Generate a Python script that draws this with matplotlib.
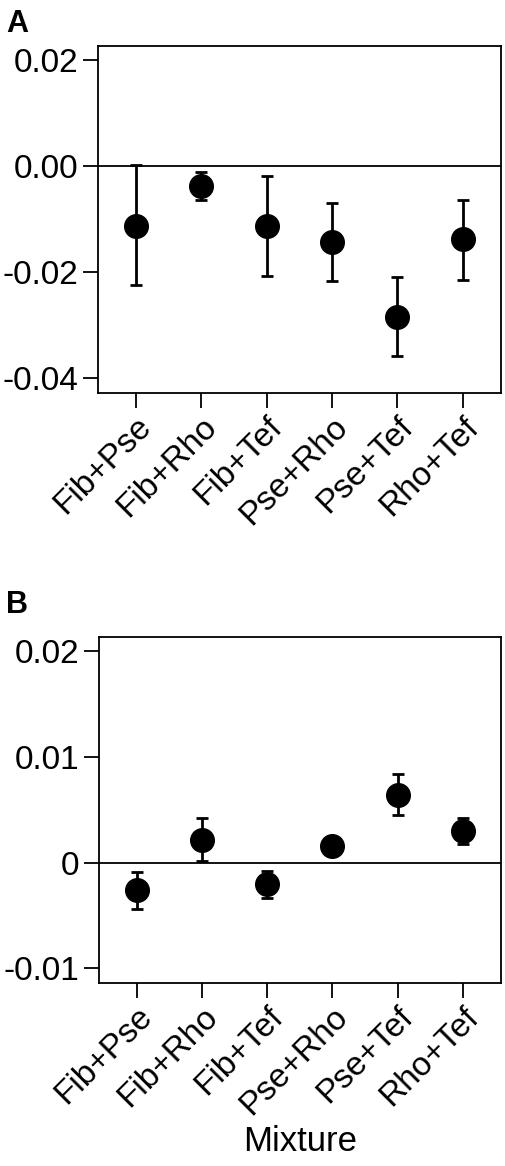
import matplotlib
matplotlib.use("Agg")
import matplotlib.pyplot as plt
import numpy as np

plt.rcParams['font.family'] = ['Liberation Sans', 'DejaVu Sans']

categories = ["Fib+Pse", "Fib+Rho", "Fib+Tef", "Pse+Rho", "Pse+Tef", "Rho+Tef"]

# Panel A
a_mean = [-0.0112, -0.0037, -0.0113, -0.0143, -0.0284, -0.0138]
a_upper = [0.0002, -0.0011, -0.0018, -0.0069, -0.0209, -0.0063]
a_lower = [-0.0224, -0.0064, -0.0208, -0.0216, -0.0358, -0.0214]
a_ticks = [0.02, 0.00, -0.02, -0.04]
a_ticklabels = ["0.02", "0.00", "-0.02", "-0.04"]

# Panel B
b_mean = [-0.0026, 0.00215, -0.0020, 0.0016, 0.0064, 0.0030]
b_upper = [-0.0009, 0.0042, -0.0008, 0.0018, 0.0084, 0.0042]
b_lower = [-0.0044, 0.0002, -0.0033, 0.0014, 0.0045, 0.0018]
b_ticks = [0.02, 0.01, 0.0, -0.01]
b_ticklabels = ["0.02", "0.01", "0", "-0.01"]

xlabel = "Mixture"

fig = plt.figure(figsize=(5.05, 11.66), dpi=100)
axA = fig.add_axes([0.194, 0.663, 0.7975, 0.2975])
axB = fig.add_axes([0.196, 0.1567, 0.7955, 0.2967])

def draw(ax, mean, upper, lower, ticks, ticklabels, ylim):
    x = np.arange(len(categories))
    mean = np.array(mean); upper = np.array(upper); lower = np.array(lower)
    yerr = np.vstack([mean - lower, upper - mean])
    ax.axhline(0, color='black', lw=1.3, zorder=1)
    ax.errorbar(x, mean, yerr=yerr, fmt='o', color='black', ms=17,
                elinewidth=2.0, capsize=4, capthick=2.0, zorder=3)
    ax.set_xlim(-0.58, len(categories) - 1 + 0.58)
    ax.set_ylim(*ylim)
    ax.set_yticks(ticks)
    ax.set_yticklabels(ticklabels)
    ax.set_xticks(x)
    ax.set_xticklabels(categories, rotation=45, ha='right', va='top',
                       rotation_mode='anchor')
    for s in ax.spines.values():
        s.set_linewidth(1.3)
    ax.tick_params(axis='both', which='major', length=11, width=1.3,
                   labelsize=24, pad=3, color='black')
    ax.tick_params(axis='x', pad=2)

draw(axA, a_mean, a_upper, a_lower, a_ticks, a_ticklabels, (-0.0428, 0.0227))
draw(axB, b_mean, b_upper, b_lower, b_ticks, b_ticklabels, (-0.0114, 0.0213))

fig.text(0.012, 0.992, "A", fontsize=22, fontweight='bold', va='top', ha='left')
fig.text(0.012, 0.494, "B", fontsize=22, fontweight='bold', va='top', ha='left')
fig.text(0.594, 0.021, xlabel, fontsize=25, ha='center', va='center')

fig.savefig("out.png", dpi=100)
